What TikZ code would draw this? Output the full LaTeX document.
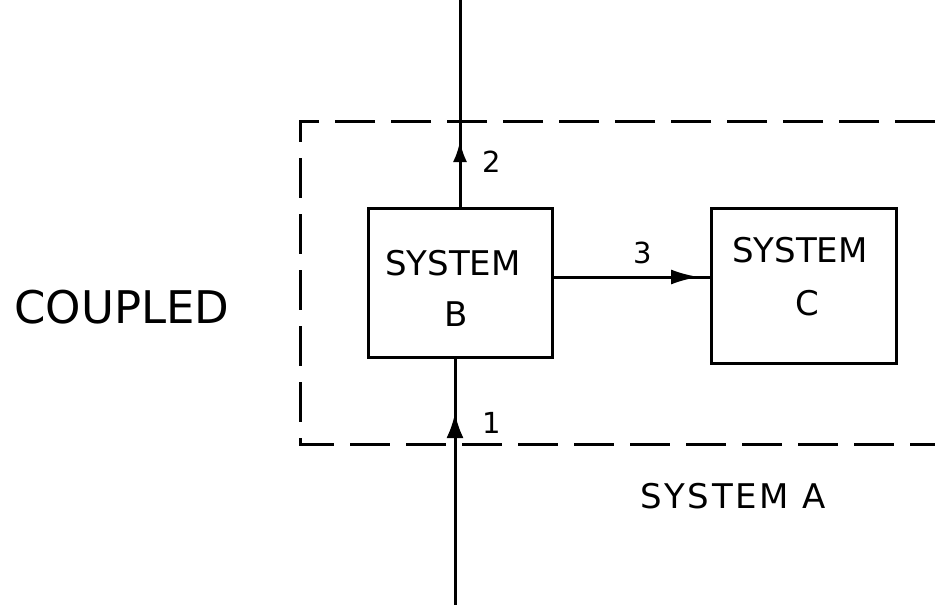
\documentclass[tikz,border=0pt]{standalone}
\usepackage{fontspec}
\setmainfont{DejaVu Sans}
\usetikzlibrary{arrows.meta}
\tikzset{
  ln/.style={line width=3pt},
  boxst/.style={draw, line width=3pt, rectangle, inner sep=0pt},
  dashst/.style={line width=3pt, dash pattern=on 40pt off 16pt},
  bigtxt/.style={inner sep=0pt, anchor=base, font=\fontsize{45}{50}\selectfont},
  systxt/.style={inner sep=0pt, anchor=base, font=\fontsize{34}{40}\selectfont},
  numtxt/.style={inner sep=0pt, anchor=base, font=\fontsize{29}{34}\selectfont},
  arrA/.style={line width=3pt, -{Latex[length=21pt,width=14pt]}},
  arrB/.style={line width=3pt, -{Latex[length=25pt,width=17pt]}},
  arrC/.style={line width=3pt, -{Latex[length=28pt,width=15pt]}},
}
\begin{document}
\begin{tikzpicture}[x=1pt,y=-1pt]
\useasboundingbox (0,0) rectangle (935,605);
% boxes
\node[boxst, minimum width=184pt, minimum height=149pt] (B) at (460,282.5) {};
\node[boxst, minimum width=185pt, minimum height=155pt] (C) at (803.5,285.5) {};
% texts
\node[bigtxt] (coupled) at (122,323) {COUPLED};
\node[systxt] (sysB) at (453,275) {SYSTEM};
\node[systxt] (letB) at (456,326) {B};
\node[systxt] (sysC) at (800,262) {SYSTEM};
\node[systxt] (letC) at (807,315) {C};
\node[systxt] (sysA) at (733,508) {\addfontfeature{LetterSpace=8}SYSTEM A};
\node[numtxt] (n2) at (492,172) {2};
\node[numtxt] (n3) at (643,263) {3};
\node[numtxt] (n1) at (492,433) {1};
% dashed boundary of system A
\coordinate (dtr) at (935,121);
\coordinate (dtl) at (300,121);
\coordinate (dbl) at (300,444);
\coordinate (dbr) at (935,444);
\draw[dashst] (dtr) -- (dtl) -- (dbl) -- (dbr);
% connectors
\coordinate (topend) at (460,0);
\coordinate (tip2) at (460,141);
\coordinate (botend) at (455,605);
\coordinate (tip1) at (455,413);
\coordinate (tip3) at (699,277);
\draw[ln] (B.north) -- (topend);
\draw[ln] (botend) -- (botend |- B.south);
\draw[ln] (B.east |- tip3) -- (C.west |- tip3);
\draw[arrA] (B.north) -- (tip2);
\draw[arrB] (botend) -- (tip1);
\draw[arrC] (B.east |- tip3) -- (tip3);
\end{tikzpicture}
\end{document}
